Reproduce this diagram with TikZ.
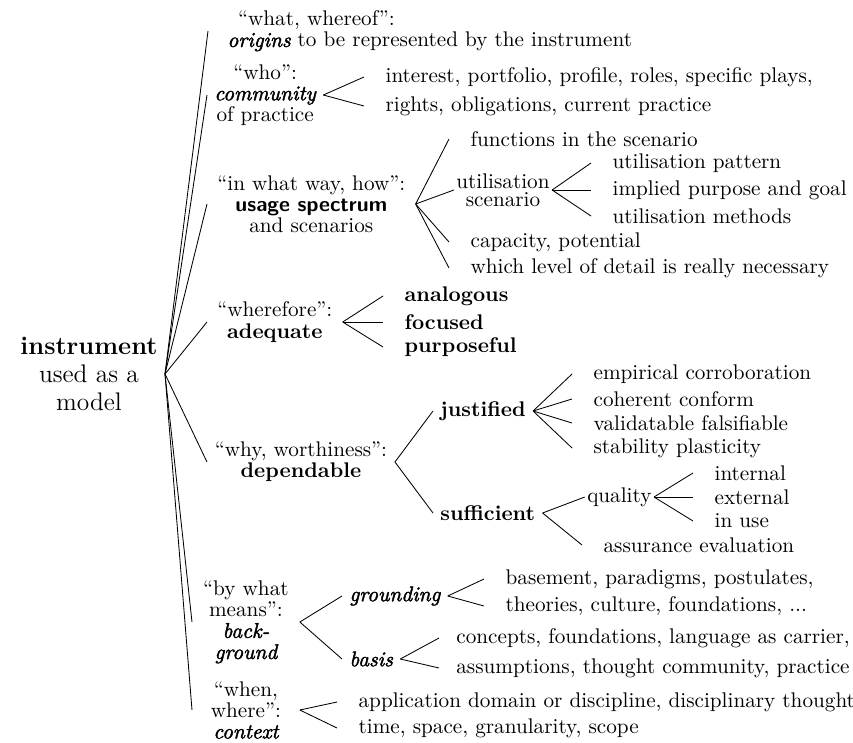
\documentclass[tikz,border=0pt]{standalone}
\usepackage{fontspec}
% italic shape emboldened by stroking, for the emphasised keywords
\newfontface\fbitface{lmroman10-italic.otf}[FakeBold=2]
\newcommand{\bfit}[1]{{\fbitface #1}}
\begin{document}
\begin{tikzpicture}[x=0.4717pt, y=-0.4717pt,
  every node/.style={font=\fontsize{10}{10}\selectfont},
  branch/.style={anchor=west, align=center, inner xsep=4.7pt},
  leaf/.style={anchor=west, inner xsep=10pt},
  fixedbox/.style={anchor=west, align=center, text width=43.8pt}]
\useasboundingbox (0,0) rectangle (853,742);
\clip (0,0) rectangle (853,742);

% root
\node[anchor=east, align=center, font=\fontsize{12}{13}\selectfont] (root) at (165,374)
  {\textbf{instrument}\\used as a\\model};

% first level
\node[anchor=west, align=left, inner xsep=9pt] (what) at (208,31)
  {\hspace*{5pt}“what, whereof”:\\\bfit{origins} to be represented by the instrument};
\node[anchor=west, align=center] (who) at (207,95) {“who”:\\\bfit{community}\\of practice};
\node[branch] (how) at (207,204) {“in what way, how”:\\{\sffamily\bfseries usage spectrum}\\and scenarios};
\node[branch] (wherefore) at (207,322) {“wherefore”:\\\textbf{adequate}};
\node[branch, inner xsep=3.5pt] (why) at (207,462) {“why, worthiness”:\\\textbf{dependable}};
\node[fixedbox] (means) at (192,622) {“by what\\means”:\\\bfit{back-}\\\bfit{ground}};
\node[fixedbox] (when) at (192,710) {“when,\\where”:\\\bfit{context}};

\foreach \n in {what,who,how,wherefore,why,means,when}
  \draw (root.east) -- (\n.west);

% who
\node[leaf] (who1) at (364,77) {interest, portfolio, profile, roles, specific plays,};
\node[leaf] (who2) at (364,106) {rights, obligations, current practice};
\foreach \n in {who1,who2} \draw (who.east) -- (\n.west);

% how
\node[leaf] (how1) at (449,139) {functions in the scenario};
\node[align=center, inner xsep=1pt, font=\fontsize{10}{8.5}\selectfont] (usc) at (503,190) {utilisation\\scenario};
\node[leaf] (how3) at (449,242) {capacity, potential};
\node[leaf] (how4) at (449,268) {which level of detail is really necessary};
\foreach \n in {how1,usc,how3,how4} \draw (how.east) -- (\n.west);

\node[leaf] (usc1) at (591,163) {utilisation pattern};
\node[leaf] (usc2) at (591,190) {implied purpose and goal};
\node[leaf] (usc3) at (591,216) {utilisation methods};
\foreach \n in {usc1,usc2,usc3} \draw (usc.east) -- (\n.west);

% wherefore
\node[leaf] (adq1) at (383,296) {\textbf{analogous}};
\node[leaf] (adq2) at (383,322) {\textbf{focused}};
\node[leaf] (adq3) at (383,347) {\textbf{purposeful}};
\foreach \n in {adq1,adq2,adq3} \draw (wherefore.east) -- (\n.west);

% why
\node[anchor=west] (just) at (433,411) {\textbf{justified}};
\node[anchor=west] (suff) at (433,513) {\textbf{sufficient}};
\foreach \n in {just,suff} \draw (why.east) -- (\n.west);

\node[leaf] (just1) at (572,374) {empirical corroboration};
\node[leaf] (just2) at (572,399) {coherent conform};
\node[leaf] (just3) at (572,423) {validatable falsifiable};
\node[leaf] (just4) at (572,448) {stability plasticity};
\foreach \n in {just1,just2,just3,just4} \draw (just.east) -- (\n.west);

\node[anchor=east, inner xsep=1pt] (qual) at (654,497) {quality};
\node[leaf] (assur) at (582,545) {assurance evaluation};
\foreach \n in {qual,assur} \draw (suff.east) -- (\n.west);

\node[leaf] (qual1) at (693,473) {internal};
\node[leaf] (qual2) at (693,497) {external};
\node[leaf] (qual3) at (693,521) {in use};
\foreach \n in {qual1,qual2,qual3} \draw (qual.east) -- (\n.west);

% by what means
\node[anchor=west] (ground) at (342,596) {\bfit{grounding}};
\node[anchor=west] (basis) at (342,659) {\bfit{basis}};
\foreach \n in {ground,basis} \draw (means.east) -- (\n.west);

\node[leaf] (ground1) at (484,579) {basement, paradigms, postulates,};
\node[leaf] (ground2) at (484,606) {theories, culture, foundations, ...};
\foreach \n in {ground1,ground2} \draw (ground.east) -- (\n.west);

\node[leaf, inner xsep=8pt] (basis1) at (439,638) {concepts, foundations, language as carrier,};
\node[leaf, inner xsep=8pt] (basis2) at (439,668) {assumptions, thought community, practice};
\foreach \n in {basis1,basis2} \draw (basis.east) -- (\n.west);

% when, where
\node[leaf] (when1) at (337,702) {application domain or discipline, disciplinary thought};
\node[leaf] (when2) at (337,728) {time, space, granularity, scope};
\foreach \n in {when1,when2} \draw (when.east) -- (\n.west);
\end{tikzpicture}
\end{document}
